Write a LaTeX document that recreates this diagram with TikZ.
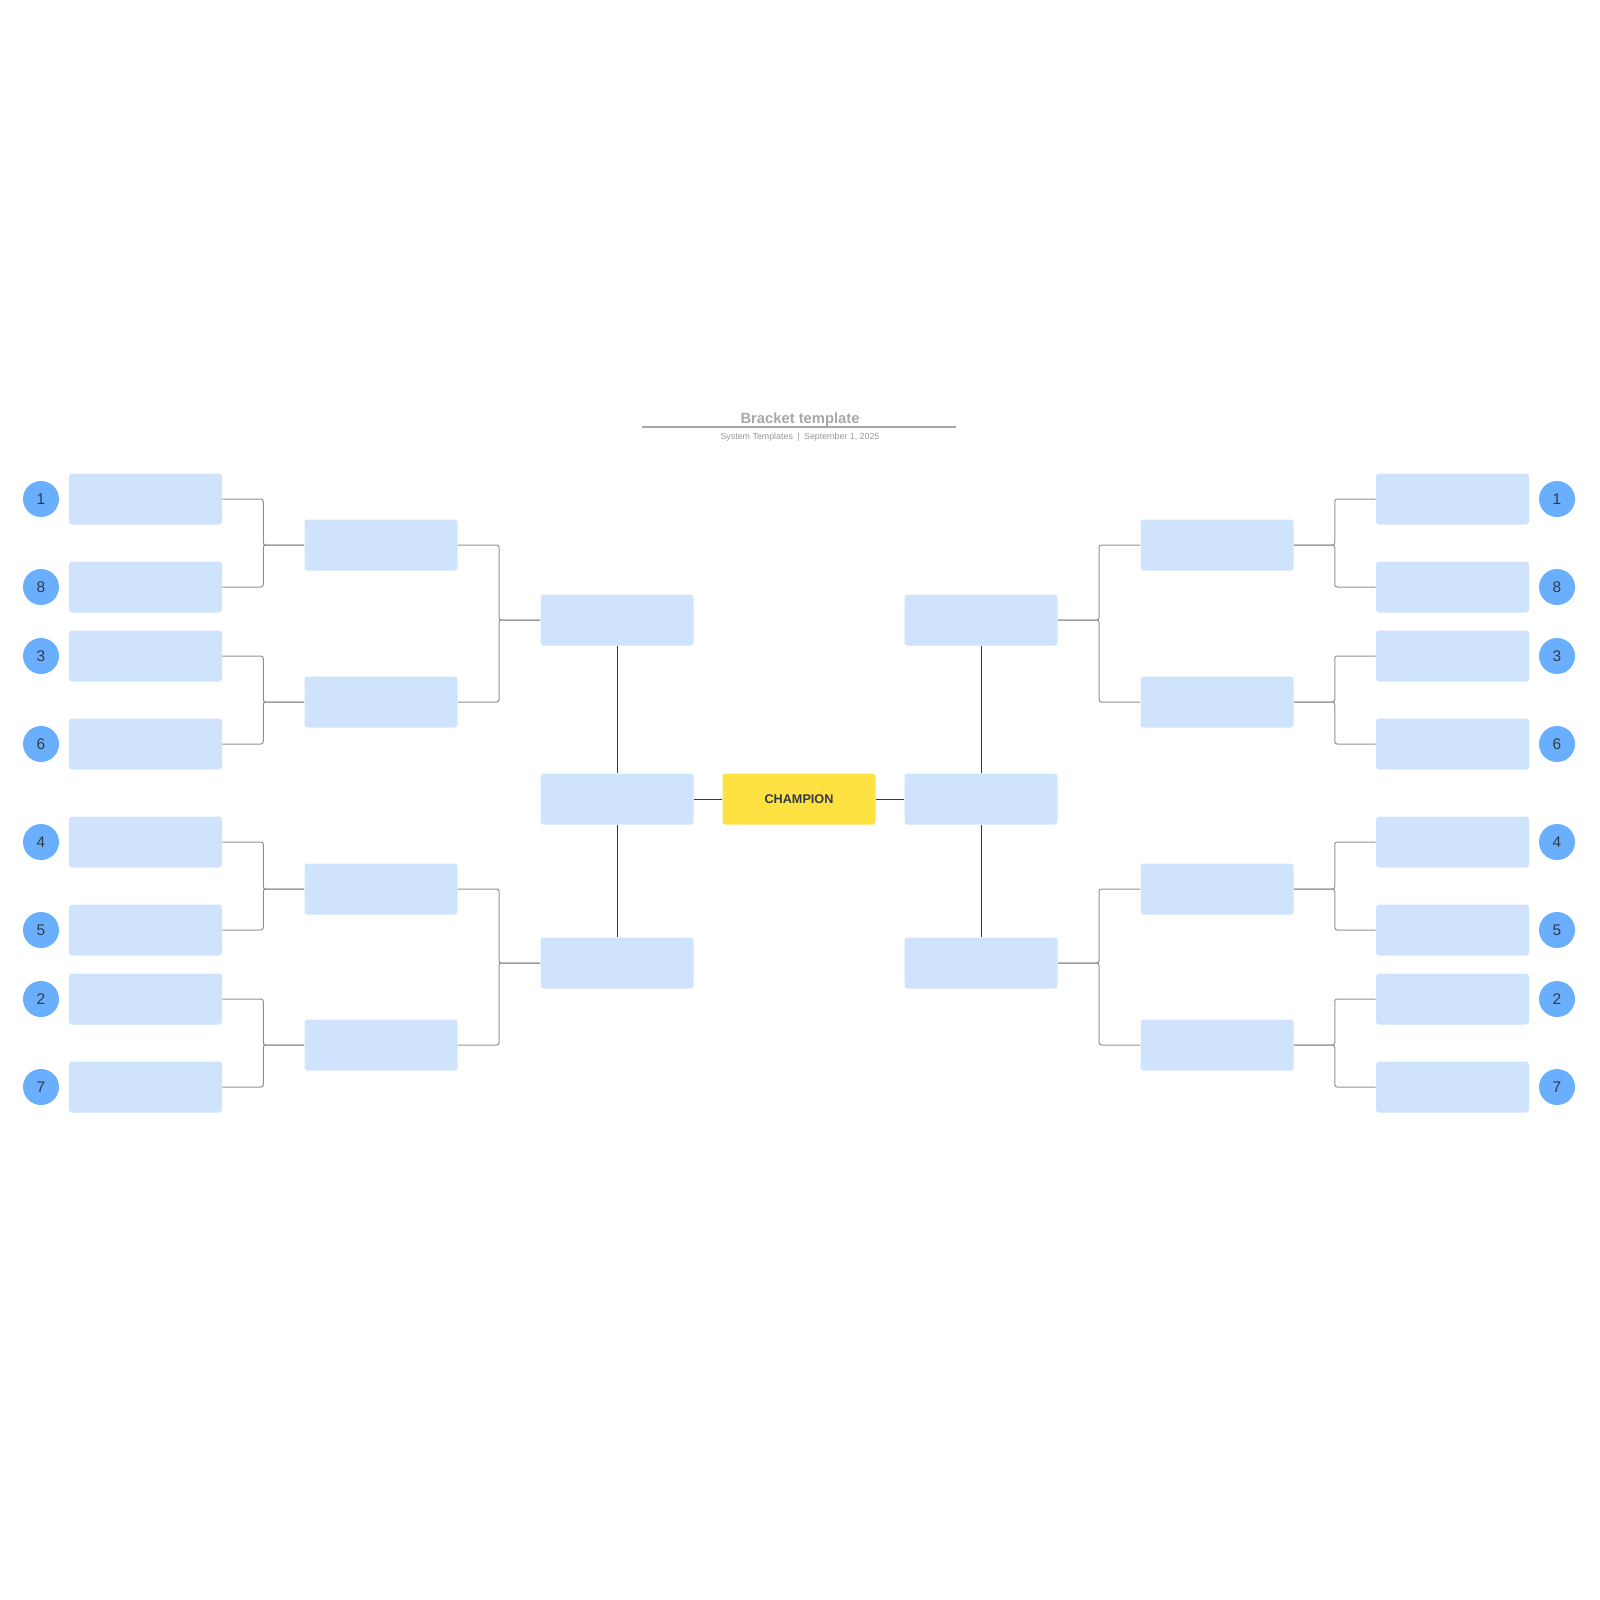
\documentclass[tikz,border=0pt]{standalone}
\usepackage{fontspec}
\setmainfont{Liberation Sans}
\usetikzlibrary{calc}

\definecolor{slotblue}{HTML}{CFE3FD}
\definecolor{seedblue}{HTML}{6AAFFE}
\definecolor{champyellow}{HTML}{FFE142}
\definecolor{inkdark}{HTML}{333A47}
\definecolor{linkgray}{HTML}{8E9299}
\definecolor{titlegray}{HTML}{A8A8A8}

\tikzset{
  slot/.style={fill=slotblue, rounded corners=0.75mm, minimum width=38.25mm, minimum height=12.75mm, inner sep=0pt},
  seed/.style={circle, fill=seedblue, minimum size=9mm, inner sep=0pt, text=inkdark, font=\fontsize{11}{13}\selectfont},
  winner/.style={slot, fill=champyellow, text=inkdark, font=\bfseries\fontsize{9}{11}\selectfont},
  link/.style={draw=linkgray, line width=0.25mm, rounded corners=0.6mm},
  final/.style={draw=inkdark, line width=0.25mm},
}

\begin{document}
\begin{tikzpicture}[x=0.25mm, y=-0.25mm]
    \useasboundingbox (0,0) rectangle (1600,1600);

    % title
    \node[font=\bfseries\fontsize{10.5}{12}\selectfont, text=titlegray] (title) at (800,419.5) {Bracket template};
    \coordinate (ruleL) at (642,427);
    \coordinate (ruleR) at (956,427);
    \draw[titlegray, line width=0.35mm] (ruleL) -- (ruleR);
    \node[font=\fontsize{6.3}{8}\selectfont, text=titlegray!90!black] (meta) at (800,437.5) {System Templates\enspace|\enspace September 1, 2025};

    % first round, both sides
    \foreach \y/\s/\k in {499/1/1, 587/8/2, 656/3/3, 744/6/4, 842/4/5, 930/5/6, 999/2/7, 1087/7/8} {
        \node[seed] (ls\k) at (41,\y) {\s};
        \node[slot] (l1\k) at (145.5,\y) {};
        \node[seed] (rs\k) at (1557,\y) {\s};
        \node[slot] (r1\k) at (1452.5,\y) {};
    }

    % second round
    \foreach \y/\k in {545/1, 702/2, 889/3, 1045/4} {
        \node[slot] (l2\k) at (381,\y) {};
        \node[slot] (r2\k) at (1217,\y) {};
    }

    % third round and semis
    \node[slot] (l31) at (617,620) {};
    \node[slot] (l32) at (617,963) {};
    \node[slot] (r31) at (981,620) {};
    \node[slot] (r32) at (981,963) {};
    \node[slot] (lsemi) at (617,799) {};
    \node[slot] (rsemi) at (981,799) {};
    \node[winner] (champ) at (799,799) {CHAMPION};

    % brackets
    \foreach \a/\b in {1/1, 2/1, 3/2, 4/2, 5/3, 6/3, 7/4, 8/4} {
        \draw[link] (l1\a.east) -| ($(l1\a.east)!.5!(l2\b.west)$) |- (l2\b.west);
        \draw[link] (r1\a.west) -| ($(r1\a.west)!.5!(r2\b.east)$) |- (r2\b.east);
    }
    \foreach \a/\b in {1/1, 2/1, 3/2, 4/2} {
        \draw[link] (l2\a.east) -| ($(l2\a.east)!.5!(l3\b.west)$) |- (l3\b.west);
        \draw[link] (r2\a.west) -| ($(r2\a.west)!.5!(r3\b.east)$) |- (r3\b.east);
    }

    \draw[final] (l31.south) -- (lsemi.north);
    \draw[final] (lsemi.south) -- (l32.north);
    \draw[final] (r31.south) -- (rsemi.north);
    \draw[final] (rsemi.south) -- (r32.north);
    \draw[final] (lsemi.east) -- (champ.west);
    \draw[final] (champ.east) -- (rsemi.west);
\end{tikzpicture}
\end{document}
